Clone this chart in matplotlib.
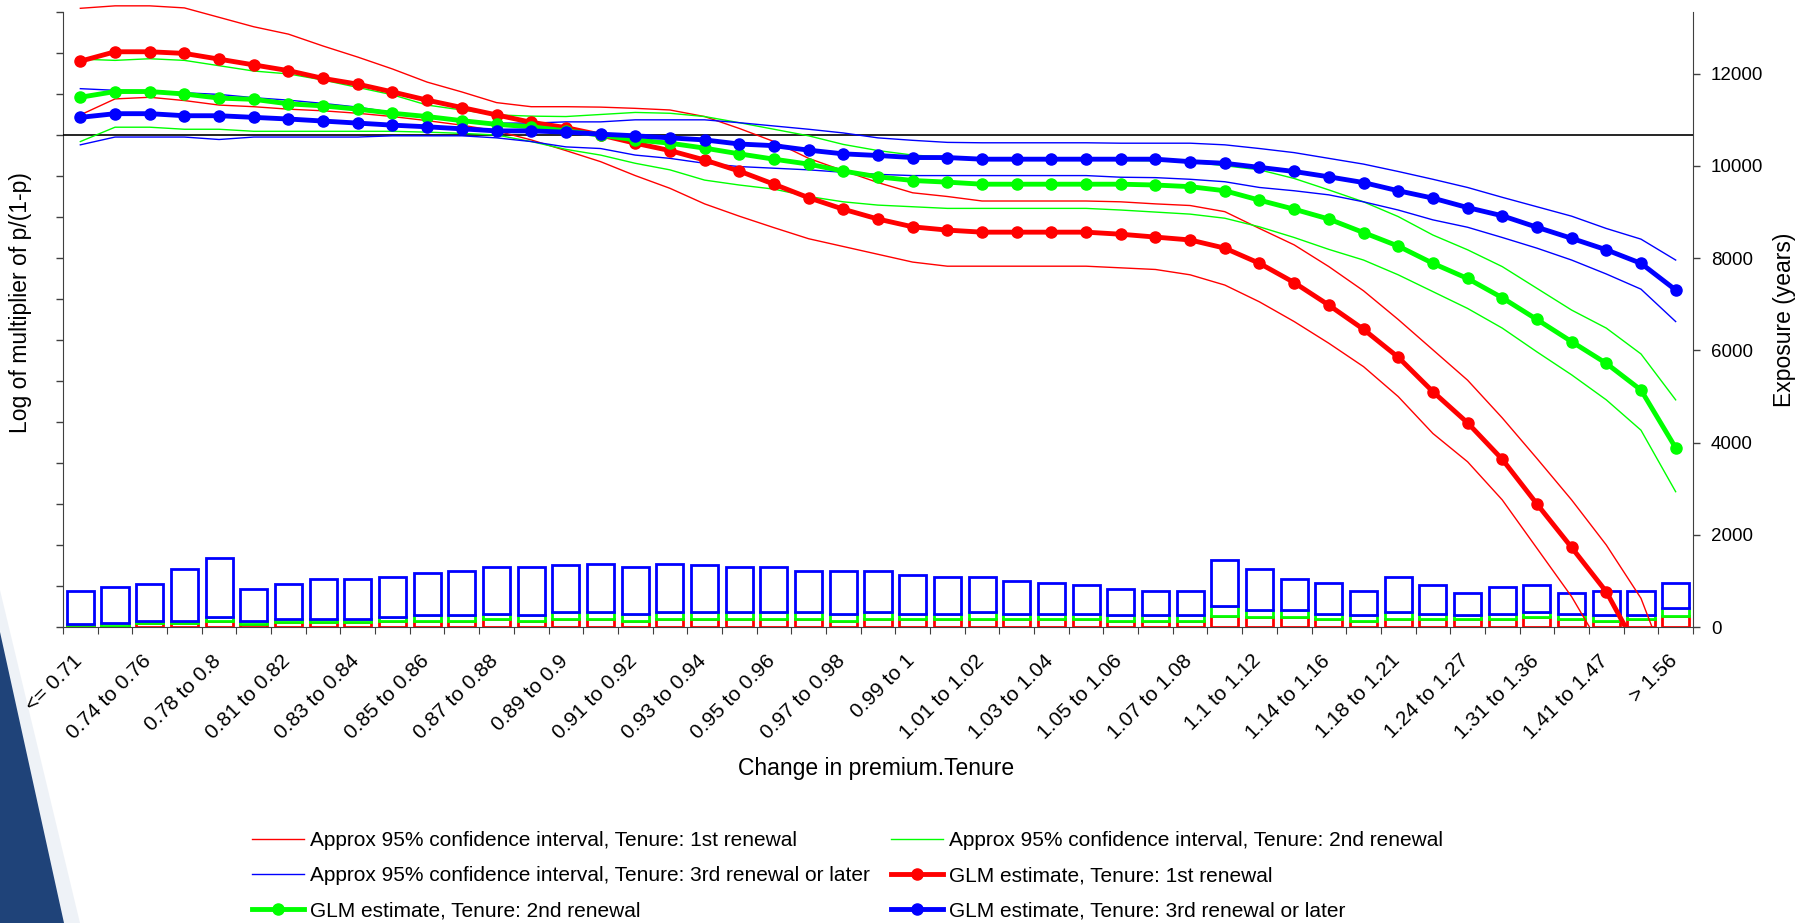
import matplotlib.pyplot as plt
import numpy as np
from matplotlib.lines import Line2D
from matplotlib.patches import Polygon
from matplotlib.transforms import ScaledTranslation

plt.rcParams['font.family'] = ['Liberation Sans', 'DejaVu Sans']

COLORS = {
    'red': '#FF0000',
    'green': '#00FF00',
    'blue': '#0000FF',
    'axis': '#404040',
}

W, H = 1807, 923

# x axis: 47 bands of premium change, every other one labelled
tick_labels = ["<= 0.71", "0.74 to 0.76", "0.78 to 0.8", "0.81 to 0.82", "0.83 to 0.84",
               "0.85 to 0.86", "0.87 to 0.88", "0.89 to 0.9", "0.91 to 0.92", "0.93 to 0.94",
               "0.95 to 0.96", "0.97 to 0.98", "0.99 to 1", "1.01 to 1.02", "1.03 to 1.04",
               "1.05 to 1.06", "1.07 to 1.08", "1.1 to 1.12", "1.14 to 1.16", "1.18 to 1.21",
               "1.24 to 1.27", "1.31 to 1.36", "1.41 to 1.47", "> 1.56"]
n_cat = 47

# GLM estimates (log of multiplier of p/(1-p))
est_1st = [0.180, 0.203, 0.203, 0.199, 0.185, 0.171, 0.157, 0.138, 0.124, 0.105, 0.085, 0.067,
           0.049, 0.031, 0.018, 0.000, -0.020, -0.038, -0.061, -0.088, -0.120, -0.153, -0.181,
           -0.205, -0.224, -0.232, -0.237, -0.237, -0.237, -0.237, -0.242, -0.249, -0.256,
           -0.276, -0.313, -0.360, -0.415, -0.474, -0.542, -0.626, -0.702, -0.791, -0.900,
           -1.006, -1.114, -1.270, -1.450]
est_2nd = [0.092, 0.106, 0.106, 0.100, 0.090, 0.087, 0.076, 0.071, 0.063, 0.053, 0.045, 0.035,
           0.026, 0.020, 0.010, 0.000, -0.012, -0.020, -0.032, -0.046, -0.059, -0.071, -0.088,
           -0.102, -0.111, -0.115, -0.120, -0.120, -0.120, -0.120, -0.120, -0.122, -0.126,
           -0.136, -0.159, -0.181, -0.205, -0.238, -0.271, -0.313, -0.350, -0.397, -0.450,
           -0.504, -0.557, -0.622, -0.763]
est_3rd = [0.043, 0.052, 0.052, 0.047, 0.047, 0.043, 0.039, 0.034, 0.029, 0.024, 0.020, 0.015,
           0.010, 0.010, 0.007, 0.002, -0.002, -0.007, -0.012, -0.022, -0.026, -0.037, -0.046,
           -0.050, -0.055, -0.055, -0.059, -0.059, -0.059, -0.059, -0.059, -0.059, -0.065,
           -0.069, -0.079, -0.089, -0.102, -0.116, -0.136, -0.154, -0.177, -0.197, -0.225,
           -0.252, -0.280, -0.313, -0.378]

# approx 95% confidence intervals
hi_1st = [0.309, 0.315, 0.315, 0.310, 0.287, 0.264, 0.246, 0.217, 0.190, 0.161, 0.129, 0.105,
          0.079, 0.069, 0.069, 0.068, 0.065, 0.061, 0.045, 0.016, -0.016, -0.057, -0.087,
          -0.116, -0.141, -0.150, -0.161, -0.161, -0.161, -0.161, -0.163, -0.168, -0.172,
          -0.187, -0.228, -0.268, -0.321, -0.380, -0.450, -0.524, -0.598, -0.690, -0.789,
          -0.890, -1.000, -1.130, -1.350]
lo_1st = [0.049, 0.088, 0.092, 0.084, 0.073, 0.069, 0.063, 0.059, 0.053, 0.045, 0.035, 0.024,
          0.010, -0.012, -0.038, -0.065, -0.099, -0.130, -0.168, -0.198, -0.226, -0.253, -0.272,
          -0.291, -0.310, -0.320, -0.320, -0.320, -0.320, -0.320, -0.324, -0.328, -0.341,
          -0.366, -0.407, -0.455, -0.508, -0.565, -0.638, -0.728, -0.797, -0.890, -1.008,
          -1.126, -1.270, -1.450, -1.650]
hi_2nd = [0.185, 0.182, 0.186, 0.182, 0.169, 0.156, 0.149, 0.134, 0.116, 0.098, 0.073, 0.061,
          0.049, 0.046, 0.045, 0.050, 0.055, 0.053, 0.045, 0.030, 0.014, -0.002, -0.023,
          -0.038, -0.049, -0.054, -0.057, -0.058, -0.059, -0.060, -0.062, -0.063, -0.066,
          -0.075, -0.085, -0.106, -0.134, -0.163, -0.199, -0.244, -0.280, -0.321, -0.374,
          -0.427, -0.471, -0.534, -0.646]
lo_2nd = [-0.016, 0.019, 0.019, 0.014, 0.014, 0.009, 0.009, 0.009, 0.009, 0.009, 0.007, 0.004,
          0.000, -0.016, -0.035, -0.049, -0.069, -0.085, -0.110, -0.122, -0.132, -0.150, -0.163,
          -0.171, -0.175, -0.179, -0.179, -0.179, -0.179, -0.179, -0.183, -0.188, -0.193,
          -0.203, -0.224, -0.250, -0.279, -0.305, -0.341, -0.382, -0.423, -0.471, -0.529,
          -0.585, -0.646, -0.720, -0.870]
hi_3rd = [0.113, 0.109, 0.108, 0.103, 0.099, 0.091, 0.085, 0.077, 0.068, 0.055, 0.042, 0.035,
          0.029, 0.029, 0.032, 0.032, 0.037, 0.037, 0.037, 0.030, 0.022, 0.014, 0.005,
          -0.007, -0.013, -0.018, -0.019, -0.019, -0.019, -0.019, -0.020, -0.020, -0.020,
          -0.024, -0.033, -0.043, -0.057, -0.071, -0.089, -0.108, -0.128, -0.152, -0.175,
          -0.198, -0.228, -0.254, -0.305]
lo_3rd = [-0.024, -0.005, -0.005, -0.005, -0.011, -0.005, -0.005, -0.005, -0.005, -0.002, -0.002,
          -0.002, -0.007, -0.016, -0.029, -0.033, -0.049, -0.057, -0.069, -0.077, -0.081, -0.085,
          -0.091, -0.096, -0.099, -0.099, -0.099, -0.099, -0.099, -0.099, -0.103, -0.104, -0.108,
          -0.114, -0.128, -0.136, -0.146, -0.163, -0.183, -0.207, -0.225, -0.250, -0.276,
          -0.305, -0.339, -0.376, -0.455]

# exposure (years), stacked by tenure
exp_1st = [36, 30, 80, 80, 130, 72, 116, 116, 116, 130, 138, 138, 174, 138, 174, 174, 138, 174,
           174, 174, 174, 174, 138, 174, 174, 174, 174, 174, 174, 174, 138, 138, 138, 232, 210,
           210, 174, 138, 174, 174, 174, 174, 210, 174, 138, 174, 246]
exp_2nd = [36, 50, 50, 50, 80, 58, 58, 58, 58, 80, 116, 116, 116, 116, 159, 159, 152, 159, 159,
           159, 159, 159, 152, 159, 116, 116, 159, 116, 116, 116, 116, 116, 116, 218, 160, 160,
           116, 116, 159, 116, 80, 116, 123, 116, 116, 80, 174]
exp_3rd = [713, 793, 794, 1121, 1295, 699, 750, 866, 866, 874, 910, 953, 1005, 1041, 1005, 1042,
           1005, 1042, 1005, 962, 962, 874, 917, 874, 837, 794, 751, 714, 663, 626, 575, 531, 531,
           1005, 881, 670, 670, 531, 751, 626, 488, 583, 583, 452, 531, 531, 540]


def px_box(x0, y0, x1, y1):
    """Прямоугольник в пикселях (сверху вниз) -> координаты фигуры"""
    return [x0 / W, 1 - y1 / H, (x1 - x0) / W, (y1 - y0) / H]


fig = plt.figure(figsize=(W / 100, H / 100), dpi=100)
fig.patch.set_facecolor('white')

# slide background swoosh in the lower left corner
fig.add_artist(Polygon([(0, 1 - 590 / H), (80 / W, 0), (0, 0)],
                       closed=True, transform=fig.transFigure, facecolor='#dfe6f0',
                       edgecolor='none', alpha=0.5, zorder=0))
fig.add_artist(Polygon([(0, 1 - 632 / H), (64 / W, 0), (0, 0)], closed=True,
                       transform=fig.transFigure, facecolor='#1f4379', edgecolor='none',
                       zorder=0))

ax_exp = fig.add_axes(px_box(63, 4, 1693, 627))
ax = ax_exp.twinx()

x = np.arange(n_cat)

# stacked exposure bars (outline only)
bottom = np.zeros(n_cat)
for vals, col in [(exp_1st, COLORS['red']), (exp_2nd, COLORS['green']), (exp_3rd, COLORS['blue'])]:
    ax_exp.bar(x, vals, bottom=bottom, width=0.78, facecolor='white', edgecolor=col,
               linewidth=2.0, zorder=2)
    bottom += np.array(vals)

ax_exp.set_ylim(0, 13514)
ax_exp.set_yticks(range(0, 12001, 2000))
ax_exp.yaxis.tick_right()
ax_exp.tick_params(axis='y', direction='out', length=5, width=1, color=COLORS['axis'],
                   labelsize=13.5, pad=8)
ax_exp.spines['right'].set_bounds(0, 13340)
ax_exp.spines['right'].set_color(COLORS['axis'])
ax_exp.spines['bottom'].set_color(COLORS['axis'])
ax_exp.spines['top'].set_visible(False)
ax_exp.spines['left'].set_visible(False)

# tick marks on band boundaries, labels on every other band centre
ax_exp.set_xlim(-0.5, n_cat - 0.5)
ax_exp.set_xticks(np.arange(-0.5, n_cat, 1))
ax_exp.set_xticklabels([])
ax_exp.tick_params(axis='x', which='major', direction='out', length=5, color=COLORS['axis'])
lbl_trans = ax_exp.get_xaxis_transform() + ScaledTranslation(-8 / 100, -24 / 100,
                                                              fig.dpi_scale_trans)
for pos, lbl in zip(range(0, n_cat, 2), tick_labels):
    ax_exp.text(pos, 0, lbl, transform=lbl_trans, rotation=45, rotation_mode='anchor',
                ha='right', va='top', fontsize=15, clip_on=False)

# model lines on the left (log) axis
ax.yaxis.tick_left()
ax.set_ylim(-1.2, 0.3195)
ax.set_yticks(np.arange(-1.2, 0.301, 0.1))
ax.set_yticklabels([])
ax.tick_params(axis='y', direction='out', length=5, width=1, color=COLORS['axis'])
ax.spines['left'].set_bounds(-1.2, 0.3)
ax.spines['left'].set_color(COLORS['axis'])
for s in ['top', 'right', 'bottom']:
    ax.spines[s].set_visible(False)

ax.axhline(0, color='black', linewidth=1.2, zorder=3)

for vals, col in [(hi_1st, COLORS['red']), (lo_1st, COLORS['red']),
                  (hi_2nd, COLORS['green']), (lo_2nd, COLORS['green']),
                  (hi_3rd, COLORS['blue']), (lo_3rd, COLORS['blue'])]:
    ax.plot(x, vals, color=col, linewidth=1.0, zorder=4)

for vals, col in [(est_1st, COLORS['red']), (est_2nd, COLORS['green']), (est_3rd, COLORS['blue'])]:
    ax.plot(x, vals, color=col, linewidth=3.5, marker='o', markersize=8, zorder=5)

# axis titles
fig.text(21 / W, 1 - 303 / H, 'Log of multiplier of p/(1-p)', rotation=90,
         ha='center', va='center', fontsize=16.5)
fig.text(1784 / W, 1 - 320 / H, 'Exposure (years)', rotation=90,
         ha='center', va='center', fontsize=16.5)
fig.text(876 / W, 1 - 769 / H, 'Change in premium.Tenure', ha='center', va='center',
         fontsize=16.5)

# legend: 2 columns, filled column-wise
def ci_handle(col):
    return Line2D([], [], color=col, linewidth=1.0)


def est_handle(col):
    return Line2D([], [], color=col, linewidth=3.5, marker='o', markersize=8)


handles = [ci_handle(COLORS['red']), ci_handle(COLORS['blue']), est_handle(COLORS['green']),
           ci_handle(COLORS['green']), est_handle(COLORS['red']), est_handle(COLORS['blue'])]
labels = ['Approx 95% confidence interval, Tenure: 1st renewal',
          'Approx 95% confidence interval, Tenure: 3rd renewal or later',
          'GLM estimate, Tenure: 2nd renewal',
          'Approx 95% confidence interval, Tenure: 2nd renewal',
          'GLM estimate, Tenure: 1st renewal',
          'GLM estimate, Tenure: 3rd renewal or later']
fig.legend(handles, labels, ncol=2, loc='upper left', bbox_to_anchor=(252 / W, 1 - 831 / H),
           frameon=False, fontsize=15, borderpad=0, borderaxespad=0, handlelength=2.5,
           handletextpad=0.3, columnspacing=1.0, labelspacing=0.78, markerscale=1.0)

fig.savefig('out.png', dpi=100, facecolor='white')
